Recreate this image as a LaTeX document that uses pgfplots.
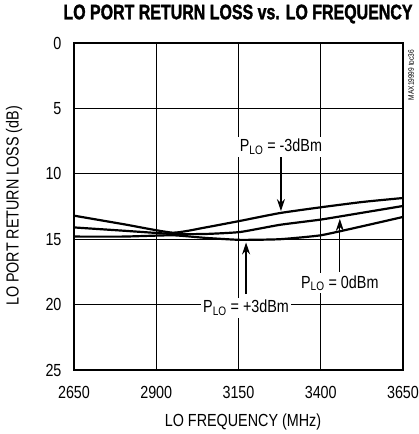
\documentclass[border=0pt]{standalone}
\usepackage{pgfplots}
\pgfplotsset{compat=1.18}
\usepackage{fontspec}
\setmainfont{Liberation Sans}[FakeStretch=0.82]
\newfontfamily\titlefont{Liberation Sans Bold}[FakeStretch=0.76, FakeBold=1.5]
\usetikzlibrary{arrows.meta}

\begin{document}
\begin{tikzpicture}[x=1pt,y=1pt]
\useasboundingbox (0,0) rectangle (419,434);
\begin{axis}[
    at={(74pt,64pt)}, anchor=south west,
    scale only axis,
    width=329pt, height=327pt,
    xmin=2650, xmax=3650,
    ymin=0, ymax=25,
    y dir=reverse,
    xtick={2650,2900,3150,3400,3650},
    ytick={0,5,10,15,20,25},
    grid=major,
    major grid style={black, line width=0.8pt},
    major tick length=0pt,
    axis line style={line width=2pt},
    tick label style={font=\fontsize{17.5}{17.5}\selectfont},
    /pgf/number format/assume math mode=true,
    /pgf/number format/1000 sep={},
    xticklabel style={yshift=-13pt},
    yticklabel style={xshift=-9pt},
    clip=false,
]
% P_LO = -3dBm
\addplot[black, line width=2.2pt, smooth, tension=0.3] coordinates {
(2650,13.2) (2800,13.85) (2950,14.5) (3050,14.1) (3155,13.6) (3276,13.0) (3400,12.56) (3528,12.15) (3650,11.85)};
% P_LO = 0dBm
\addplot[black, line width=2.2pt, smooth, tension=0.3] coordinates {
(2650,14.1) (2800,14.35) (2950,14.6) (3050,14.6) (3155,14.45) (3276,13.9) (3400,13.5) (3528,12.97) (3650,12.46)};
% P_LO = +3dBm
\addplot[black, line width=2.2pt, smooth, tension=0.3] coordinates {
(2650,14.8) (2800,14.8) (2950,14.7) (3050,14.9) (3155,15.05) (3276,15.0) (3400,14.7) (3528,14.0) (3650,13.3)};

\draw[line width=1.2pt, -{Stealth[length=12pt,width=8pt]}] (axis cs:3279,8.75) -- (axis cs:3279,12.85);
\draw[line width=1.2pt, -{Stealth[length=12pt,width=8pt]}] (axis cs:3458,17.5) -- (axis cs:3458,13.45);
\draw[line width=1.2pt, -{Stealth[length=12pt,width=8pt]}] (axis cs:3173,19.2) -- (axis cs:3173,15.25);

\node[fill=white, inner sep=2pt, font=\fontsize{17.5}{17.5}\selectfont] at (axis cs:3279,7.95) {P\textsubscript{LO} = -3dBm};
\node[fill=white, inner sep=2pt, font=\fontsize{17.5}{17.5}\selectfont] at (axis cs:3458,18.35) {P\textsubscript{LO} = 0dBm};
\node[fill=white, inner sep=2pt, font=\fontsize{17.5}{17.5}\selectfont] at (axis cs:3173,20.26) {P\textsubscript{LO} = +3dBm};
\end{axis}
\node[font=\fontsize{21}{21}\selectfont\titlefont] at (238,420) {LO PORT RETURN LOSS vs. LO FREQUENCY};
\node[font=\fontsize{17.5}{17.5}\selectfont] at (243,12) {LO FREQUENCY (MHz)};
\node[font=\fontsize{17.5}{17.5}\selectfont, rotate=90] at (14,228) {LO PORT RETURN LOSS (dB)};
\node[font=\fontsize{8}{8}\selectfont, rotate=90] at (411,359) {MAX19999 toc36};
\end{tikzpicture}
\end{document}
